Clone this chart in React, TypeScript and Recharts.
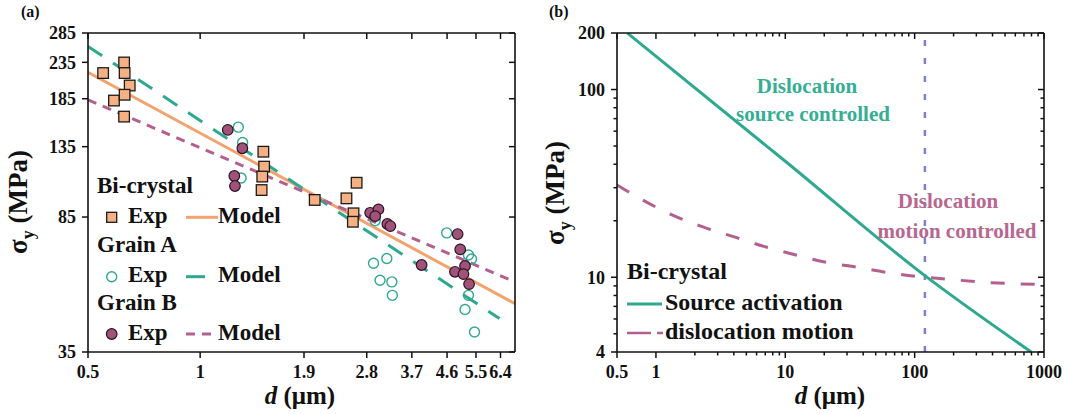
import React from 'react';
import { ComposedChart, Line, Scatter, XAxis, YAxis, ReferenceLine } from 'recharts';

// ---- panel (a): yield stress vs grain size ----
const aXTicks = [0.5, 1, 1.9, 2.8, 3.7, 4.6, 5.5, 6.4];
const aYTicks = [35, 85, 135, 185, 235, 285];

const biCrystalExp = [
  { d: 0.549, s: 219 }, { d: 0.625, s: 234.8 }, { d: 0.627, s: 219 }, { d: 0.647, s: 201.8 },
  { d: 0.587, s: 182.8 }, { d: 0.627, s: 189.9 }, { d: 0.625, s: 164.5 },
  { d: 1.478, s: 130.6 }, { d: 1.485, s: 118.4 }, { d: 1.468, s: 110.9 }, { d: 1.462, s: 101.5 },
  { d: 2.63, s: 106.5 }, { d: 2.47, s: 96.1 }, { d: 2.03, s: 95.1 }, { d: 2.58, s: 87.1 }, { d: 2.57, s: 82.4 },
];
const grainAExp = [
  { d: 1.266, s: 153.5 }, { d: 1.3, s: 138.8 }, { d: 1.288, s: 109.9 }, { d: 2.95, s: 83 },
  { d: 2.92, s: 62.7 }, { d: 3.17, s: 64.7 }, { d: 3.04, s: 56.1 }, { d: 3.27, s: 55.5 }, { d: 3.28, s: 50.8 },
  { d: 4.59, s: 76.6 }, { d: 5.25, s: 66.2 }, { d: 5.35, s: 64.5 }, { d: 5.25, s: 50.8 },
  { d: 5.14, s: 46.3 }, { d: 5.45, s: 39.9 },
];
const grainBExp = [
  { d: 1.186, s: 150.7 }, { d: 1.298, s: 133.6 }, { d: 1.235, s: 111.3 }, { d: 1.24, s: 104.2 },
  { d: 2.86, s: 87.4 }, { d: 3.01, s: 89.4 }, { d: 2.95, s: 85.5 }, { d: 3.18, s: 81.2 }, { d: 3.24, s: 80.1 },
  { d: 4.91, s: 76.0 }, { d: 4.99, s: 68.7 }, { d: 3.93, s: 62.0 }, { d: 5.14, s: 61.6 },
  { d: 4.83, s: 59.3 }, { d: 5.09, s: 58.4 }, { d: 5.27, s: 54.7 },
];
const biCrystalModel = [{ d: 0.5, s: 220 }, { d: 7, s: 48.1 }];
const grainAModel = [{ d: 0.5, s: 261 }, { d: 6.36, s: 43.6 }];
const grainBModel = [{ d: 0.5, s: 183.6 }, { d: 7, s: 55.5 }];

// ---- panel (b): source activation vs dislocation motion ----
const bXMajor = [0.5, 1, 10, 100, 1000];
const bXMinor = [2, 3, 4, 5, 6, 7, 8, 9, 20, 30, 40, 50, 60, 70, 80, 90, 200, 300, 400, 500, 600, 700, 800, 900];
const bYMajor = [4, 10, 100, 200];
const bYMinor = [5, 6, 7, 8, 9, 20, 30, 40, 50, 60, 70, 80, 90];
const sourceActivation = [{ d: 0.6, s: 200 }, { d: 10, s: 41.5 }, { d: 120, s: 10.2 }, { d: 797, s: 4 }];
const dislocationMotion = [
  { d: 0.5, s: 31 }, { d: 1.33, s: 21.5 }, { d: 2.28, s: 18.6 }, { d: 4.15, s: 16.3 }, { d: 7.1, s: 14.5 },
  { d: 12.3, s: 13.1 }, { d: 21, s: 12 }, { d: 36, s: 11.3 }, { d: 62, s: 10.6 }, { d: 106, s: 10.1 },
  { d: 172, s: 9.8 }, { d: 315, s: 9.45 }, { d: 1000, s: 9.15 },
];
const transitionSize = 120;

const TEAL = '#2EA98F';
const ORANGE_FILL = '#F5B183';
const ORANGE_LINE = '#F3A36F';
const PURPLE = '#A1527B';
const PINK = '#B3608E';
const FONT = '"Liberation Serif", "Times New Roman", serif';
const AXIS = '#111';

const fmt = (v: number) => String(v);

// custom tick: draws tick mark (inward on top/right) and label
const makeTick = (side: 'bottom' | 'top' | 'left' | 'right', majors: number[], labels: number[]) =>
  (props: any) => {
    const { x, y, payload } = props;
    const v = payload.value;
    const len = majors.includes(v) ? 6 : 3.5;
    const show = labels.includes(v);
    if (side === 'bottom') {
      return (
        <g>
          <line x1={x} y1={y} x2={x} y2={y + len} stroke={AXIS} strokeWidth={1.5} />
          {show && (
            <text x={x} y={y + 26} textAnchor="middle" fontFamily={FONT} fontWeight="bold" fontSize={18} fill="#111">
              {fmt(v)}
            </text>
          )}
        </g>
      );
    }
    if (side === 'left') {
      return (
        <g>
          <line x1={x - len} y1={y} x2={x} y2={y} stroke={AXIS} strokeWidth={1.5} />
          {show && (
            <text x={x - 12} y={y} dy="0.35em" textAnchor="end" fontFamily={FONT} fontWeight="bold" fontSize={18} fill="#111">
              {fmt(v)}
            </text>
          )}
        </g>
      );
    }
    if (side === 'top') {
      return <line x1={x} y1={y} x2={x} y2={y + len} stroke={AXIS} strokeWidth={1.5} />;
    }
    return <line x1={x - len} y1={y} x2={x} y2={y} stroke={AXIS} strokeWidth={1.5} />;
  };

const SquareDot = (p: any) => (
  <rect x={p.cx - 5.3} y={p.cy - 5.3} width={10.6} height={10.6} fill={ORANGE_FILL} stroke="#1b1b1b" strokeWidth={1.3} />
);
const OpenDot = (p: any) => <circle cx={p.cx} cy={p.cy} r={5} fill="none" stroke={TEAL} strokeWidth={1.4} />;
const FilledDot = (p: any) => (
  <circle cx={p.cx} cy={p.cy} r={5.3} fill={PURPLE} stroke="#2a1420" strokeWidth={1.2} />
);

const axisLine = { stroke: AXIS, strokeWidth: 1.6 };

const PanelA = () => {
  const xProps = {
    type: 'number' as const, dataKey: 'd', scale: 'log' as const, domain: [0.5, 7], allowDataOverflow: true,
    ticks: aXTicks, interval: 0 as const, height: 1, tickSize: 0, tickMargin: 0, tickLine: false, axisLine,
  };
  const yProps = {
    type: 'number' as const, dataKey: 's', scale: 'log' as const, domain: [35, 285], allowDataOverflow: true,
    ticks: aYTicks, interval: 0 as const, width: 1, tickSize: 0, tickMargin: 0, tickLine: false, axisLine,
  };
  return (
    <ComposedChart width={540} height={414} margin={{ top: 32, right: 24, bottom: 61, left: 87 }}>
      <XAxis {...xProps} xAxisId="b" orientation="bottom" tick={makeTick('bottom', aXTicks, aXTicks)} />
      <XAxis {...xProps} xAxisId="t" orientation="top" tick={makeTick('top', aXTicks, [])} />
      <YAxis {...yProps} yAxisId="l" orientation="left" tick={makeTick('left', aYTicks, aYTicks)} />
      <YAxis {...yProps} yAxisId="r" orientation="right" tick={makeTick('right', aYTicks, [])} />
      <Scatter xAxisId="b" yAxisId="l" data={biCrystalExp} shape={SquareDot} isAnimationActive={false} />
      <Scatter xAxisId="b" yAxisId="l" data={grainAExp} shape={OpenDot} isAnimationActive={false} />
      <Scatter xAxisId="b" yAxisId="l" data={grainBExp} shape={FilledDot} isAnimationActive={false} />
      <Line xAxisId="b" yAxisId="l" data={biCrystalModel} dataKey="s" stroke={ORANGE_LINE} strokeWidth={3}
        dot={false} activeDot={false} isAnimationActive={false} />
      <Line xAxisId="b" yAxisId="l" data={grainAModel} dataKey="s" stroke={TEAL} strokeWidth={3}
        strokeDasharray="17 13" dot={false} activeDot={false} isAnimationActive={false} />
      <Line xAxisId="b" yAxisId="l" data={grainBModel} dataKey="s" stroke={PINK} strokeWidth={3}
        strokeDasharray="9 7" dot={false} activeDot={false} isAnimationActive={false} />
    </ComposedChart>
  );
};

const PanelB = () => {
  const xTicks = [...bXMajor, ...bXMinor];
  const yTicks = [...bYMajor, ...bYMinor];
  const xProps = {
    type: 'number' as const, dataKey: 'd', scale: 'log' as const, domain: [0.5, 1000], allowDataOverflow: true,
    ticks: xTicks, interval: 0 as const, height: 1, tickSize: 0, tickMargin: 0, tickLine: false, axisLine,
  };
  const yProps = {
    type: 'number' as const, dataKey: 's', scale: 'log' as const, domain: [4, 200], allowDataOverflow: true,
    ticks: yTicks, interval: 0 as const, width: 1, tickSize: 0, tickMargin: 0, tickLine: false, axisLine,
  };
  return (
    <ComposedChart width={529} height={414} margin={{ top: 32, right: 24, bottom: 61, left: 76 }}>
      <XAxis {...xProps} xAxisId="b" orientation="bottom" tick={makeTick('bottom', bXMajor, bXMajor)} />
      <XAxis {...xProps} xAxisId="t" orientation="top" tick={makeTick('top', bXMajor, [])} />
      <YAxis {...yProps} yAxisId="l" orientation="left" tick={makeTick('left', bYMajor, bYMajor)} />
      <YAxis {...yProps} yAxisId="r" orientation="right" tick={makeTick('right', bYMajor, [])} />
      <ReferenceLine xAxisId="b" yAxisId="l" x={transitionSize} stroke="#7C80CC" strokeWidth={2.5} strokeDasharray="6 12" />
      <Line xAxisId="b" yAxisId="l" data={dislocationMotion} dataKey="s" type="monotone" stroke={PINK} strokeWidth={3}
        strokeDasharray="14 16" dot={false} activeDot={false} isAnimationActive={false} />
      <Line xAxisId="b" yAxisId="l" data={sourceActivation} dataKey="s" type="monotone" stroke={TEAL} strokeWidth={3}
        dot={false} activeDot={false} isAnimationActive={false} />
    </ComposedChart>
  );
};

const bold = { fontFamily: FONT, fontWeight: 'bold' as const };

const Overlay = () => (
  <svg width={1069} height={414} style={{ position: 'absolute', left: 0, top: 0, pointerEvents: 'none' }}>
    {/* panel labels */}
    <text x={21} y={17} fontSize={16} fill="#111" {...bold}>(a)</text>
    <text x={549} y={17} fontSize={16} fill="#111" {...bold}>(b)</text>

    {/* axis titles (a) */}
    <text transform="translate(27,202) rotate(-90)" textAnchor="middle" fontSize={27} fill="#111" {...bold}>
      σ<tspan fontSize={18} dy={7}>y</tspan><tspan dy={-7}> (MPa)</tspan>
    </text>
    <text x={300} y={404} textAnchor="middle" fontSize={25} fill="#111" {...bold}>
      <tspan fontStyle="italic">d</tspan> (μm)
    </text>
    {/* axis titles (b) */}
    <text transform="translate(564,193) rotate(-90)" textAnchor="middle" fontSize={27} fill="#111" {...bold}>
      σ<tspan fontSize={18} dy={7}>y</tspan><tspan dy={-7}> (MPa)</tspan>
    </text>
    <text x={830} y={404} textAnchor="middle" fontSize={25} fill="#111" {...bold}>
      <tspan fontStyle="italic">d</tspan> (μm)
    </text>

    {/* legend (a) */}
    <g fontSize={23} fill="#111" {...bold}>
      <text x={97} y={193}>Bi-crystal</text>
      <rect x={106.7} y={212.3} width={10} height={10} fill={ORANGE_FILL} stroke="#1b1b1b" strokeWidth={1.3} />
      <text x={128} y={223}>Exp</text>
      <line x1={186} y1={217.3} x2={218} y2={217.3} stroke={ORANGE_LINE} strokeWidth={3} />
      <text x={218} y={223}>Model</text>
      <text x={97} y={252}>Grain A</text>
      <circle cx={111.7} cy={276.7} r={5} fill="none" stroke={TEAL} strokeWidth={1.4} />
      <text x={128} y={282}>Exp</text>
      <line x1={186} y1={276.7} x2={205} y2={276.7} stroke={TEAL} strokeWidth={3} />
      <text x={218} y={282}>Model</text>
      <text x={97} y={310}>Grain B</text>
      <circle cx={111.7} cy={334} r={5.3} fill={PURPLE} stroke="#2a1420" strokeWidth={1.2} />
      <text x={128} y={340}>Exp</text>
      <line x1={186} y1={334} x2={214} y2={334} stroke={PINK} strokeWidth={3} strokeDasharray="9 7" />
      <text x={218} y={340}>Model</text>
    </g>

    {/* legend (b) */}
    <g fontSize={24} fill="#111" {...bold}>
      <text x={627} y={279}>Bi-crystal</text>
      <line x1={627} y1={304} x2={662} y2={304} stroke={TEAL} strokeWidth={3} />
      <text x={665} y={310}>Source activation</text>
      <line x1={627} y1={333} x2={663} y2={333} stroke={PINK} strokeWidth={2.5} strokeDasharray="24 6" />
      <text x={665} y={339}>dislocation motion</text>
    </g>

    {/* annotations (b) */}
    <g fontSize={21} textAnchor="middle" {...bold}>
      <text x={807} y={93} fill="#35AE92">Dislocation</text>
      <text x={813} y={121} fill="#35AE92">source controlled</text>
      <text x={948} y={208} fill="#B8678F">Dislocation</text>
      <text x={957} y={238} fill="#B8678F">motion controlled</text>
    </g>
  </svg>
);

export default function App() {
  return (
    <div style={{ position: 'absolute', left: 0, top: 0, width: 1069, height: 414, background: '#fff' }}>
      <div style={{ position: 'absolute', left: 0, top: 0 }}>
        <PanelA />
      </div>
      <div style={{ position: 'absolute', left: 540, top: 0 }}>
        <PanelB />
      </div>
      <Overlay />
    </div>
  );
}
